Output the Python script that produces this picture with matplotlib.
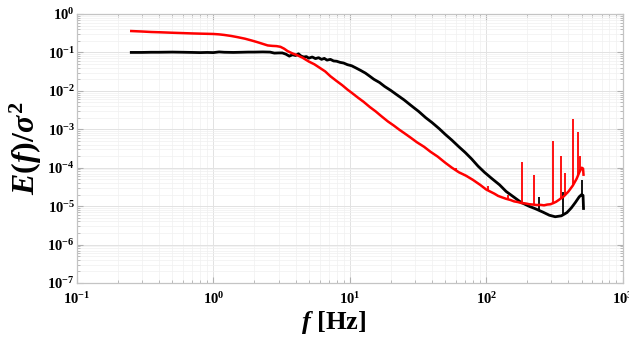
import matplotlib
matplotlib.use("Agg")
import matplotlib.pyplot as plt
from matplotlib.ticker import LogLocator, LogFormatterMathtext, NullFormatter

# === Fonts: bold Times-like text, MATLAB look ===
plt.rcParams['font.family'] = ['Liberation Serif', 'DejaVu Serif']
plt.rcParams['font.weight'] = 'bold'
plt.rcParams['mathtext.fontset'] = 'custom'
plt.rcParams['mathtext.rm'] = 'Liberation Serif:bold'
plt.rcParams['mathtext.it'] = 'Liberation Serif:bold:italic'
plt.rcParams['mathtext.bf'] = 'Liberation Serif:bold'

# === Data ===
black_f = [0.25, 0.3, 0.35, 0.4, 0.5, 0.6, 0.7, 0.8, 0.9, 1.0, 1.1, 1.2, 1.4, 1.6, 1.8,
           2.0, 2.3, 2.6, 2.8, 3.0, 3.2, 3.4, 3.6, 3.8, 4.0, 4.2, 4.4, 4.6, 4.8, 5.0,
           5.3, 5.6, 5.9, 6.2, 6.5, 6.8, 7.2, 7.6, 8.0, 8.5, 9.0, 9.6, 10.3, 11, 12,
           13, 14, 15, 16.5, 18, 20, 22, 25, 28, 32, 36, 40, 45, 50, 56, 63, 70, 78,
           87, 97, 110, 125, 140, 160, 180, 205, 230, 260, 290, 320, 355, 390, 420,
           450, 480, 500, 512, 516]
black_E = [0.100, 0.100, 0.101, 0.101, 0.102, 0.101, 0.100, 0.099, 0.100, 0.099,
           0.103, 0.101, 0.100, 0.101, 0.102, 0.102, 0.103, 0.102, 0.096, 0.097,
           0.097, 0.090, 0.080, 0.087, 0.083, 0.092, 0.080, 0.076, 0.078, 0.071,
           0.076, 0.069, 0.073, 0.066, 0.070, 0.063, 0.066, 0.060, 0.059, 0.055,
           0.053, 0.048, 0.045, 0.040, 0.034, 0.029, 0.024, 0.020, 0.0165, 0.013,
           0.0102, 0.0080, 0.0058, 0.0042, 0.0029, 0.0020, 0.0015, 0.00105, 7.4e-4,
           5.2e-4, 3.5e-4, 2.5e-4, 1.7e-4, 1.1e-4, 7.6e-5, 5.2e-5, 3.6e-5, 2.4e-5,
           1.7e-5, 1.25e-5, 1.0e-5, 8.5e-6, 7.0e-6, 5.8e-6, 5.3e-6, 5.6e-6, 6.8e-6,
           9.0e-6, 1.25e-5, 1.75e-5, 2.0e-5, 1.9e-5, 8.7e-6]

red_f = [0.25, 0.3, 0.35, 0.4, 0.5, 0.6, 0.7, 0.8, 0.9, 1.0, 1.1, 1.2, 1.35, 1.5, 1.7,
         1.9, 2.1, 2.3, 2.5, 2.7, 2.9, 3.1, 3.3, 3.5, 3.8, 4.1, 4.5, 5.0, 5.5, 6.0,
         6.6, 7.2, 8.0, 8.8, 9.6, 10.5, 11.5, 12.6, 14, 15.5, 17, 19, 21, 23, 25.5,
         28, 31, 35, 39, 44, 50, 56, 63, 71, 80, 90, 100, 108, 115, 122, 130, 140,
         150, 160, 170, 182, 195, 207, 220, 235, 250, 265, 280, 295, 310, 325, 340,
         370, 400, 430, 460, 480, 500, 512, 516]
red_E = [0.36, 0.35, 0.34, 0.335, 0.325, 0.318, 0.312, 0.308, 0.305, 0.302, 0.295,
         0.285, 0.268, 0.250, 0.228, 0.205, 0.185, 0.167, 0.152, 0.148, 0.146, 0.140,
         0.125, 0.108, 0.094, 0.085, 0.073, 0.058, 0.049, 0.040, 0.032, 0.024, 0.018,
         0.014, 0.0108, 0.0085, 0.0066, 0.0052, 0.0038, 0.0029, 0.0022, 0.0016,
         0.00125, 0.00098, 7.6e-4, 6.0e-4, 4.6e-4, 3.5e-4, 2.6e-4, 1.95e-4, 1.35e-4,
         1.0e-4, 7.6e-5, 6.2e-5, 4.8e-5, 3.6e-5, 2.7e-5, 2.35e-5, 2.1e-5, 1.85e-5,
         1.7e-5, 1.55e-5, 1.45e-5, 1.33e-5, 1.28e-5, 1.2e-5, 1.17e-5, 1.12e-5,
         1.1e-5, 1.07e-5, 1.08e-5, 1.05e-5, 1.1e-5, 1.12e-5, 1.2e-5, 1.3e-5, 1.45e-5,
         1.8e-5, 2.4e-5, 3.4e-5, 5.2e-5, 7.5e-5, 1.0e-4, 9.5e-5, 6.6e-5]

# narrow peaks: frequency, foot of the peak, tip of the peak
red_spike_f = [60, 103, 145, 184, 225, 310, 350, 375, 435, 472, 490]
red_spike_lo = [8.0e-5, 2.5e-5, 1.45e-5, 1.2e-5, 1.1e-5, 1.2e-5, 1.6e-5, 2.0e-5, 3.8e-5, 6.5e-5, 8.5e-5]
red_spike_hi = [1.0e-4, 3.3e-5, 1.9e-5, 1.4e-4, 6.3e-5, 4.9e-4, 2.0e-4, 7.5e-5, 1.8e-3, 8.5e-4, 2.0e-4]

black_spike_f = [245, 366, 505]
black_spike_lo = [7.5e-6, 5.8e-6, 2.0e-5]
black_spike_hi = [1.7e-5, 2.4e-5, 4.8e-5]

# === Plot ===
fig = plt.figure(figsize=(6.29, 3.38), dpi=100)
ax = fig.add_axes([0.1224, 0.1627, 0.8676, 0.7959])

ax.plot(black_f, black_E, color='black', lw=2.0, zorder=3)
ax.vlines(black_spike_f, black_spike_lo, black_spike_hi, color='black', lw=1.3, zorder=3)
ax.plot(red_f, red_E, color='#ff0000', lw=1.8, zorder=4)
ax.vlines(red_spike_f, red_spike_lo, red_spike_hi, color='#ff0000', lw=1.3, zorder=4)

ax.set_xscale('log')
ax.set_yscale('log')
ax.set_xlim(0.1, 1000)
ax.set_ylim(1e-7, 1)

ax.xaxis.set_major_locator(LogLocator(base=10, numticks=10))
ax.yaxis.set_major_locator(LogLocator(base=10, numticks=10))
ax.xaxis.set_minor_locator(LogLocator(base=10, subs=range(2, 10), numticks=20))
ax.yaxis.set_minor_locator(LogLocator(base=10, subs=range(2, 10), numticks=20))
ax.xaxis.set_major_formatter(LogFormatterMathtext())
ax.yaxis.set_major_formatter(LogFormatterMathtext())
ax.xaxis.set_minor_formatter(NullFormatter())
ax.yaxis.set_minor_formatter(NullFormatter())

# grid and frame
ax.grid(True, which='major', color='#e2e2e2', lw=0.7)
ax.grid(True, which='minor', color='#f0f0f0', lw=0.5)
ax.set_axisbelow(True)
for spine in ax.spines.values():
    spine.set_color('#c4c4c4')
    spine.set_linewidth(0.9)
ax.tick_params(which='both', direction='in', top=True, right=True, color='#b0b0b0')
ax.tick_params(which='major', length=4, labelsize=10.5)
ax.tick_params(which='minor', length=2)
ax.tick_params(axis='x', pad=6)
ax.tick_params(axis='y', pad=1.5)

ax.set_xlabel(r'$f$ [Hz]', fontsize=19, fontweight='bold')
ax.set_ylabel(r'$E(f)/\sigma^2$', fontsize=23)
ax.xaxis.set_label_coords(0.47, -0.095)
ax.yaxis.set_label_coords(-0.06, 0.5)

fig.savefig('out.png', dpi=100)
